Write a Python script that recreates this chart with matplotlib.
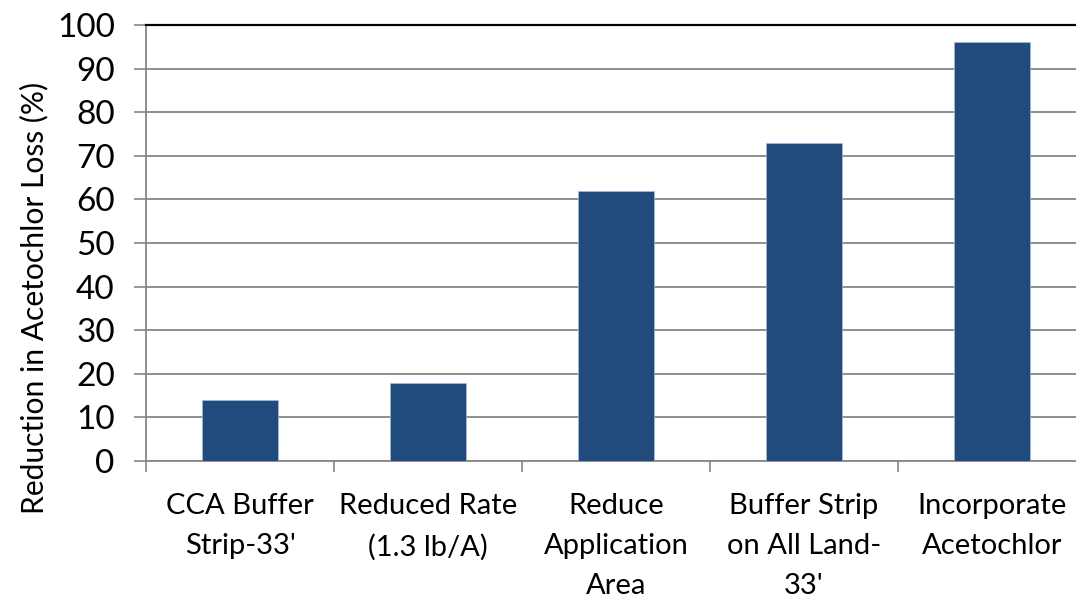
import matplotlib
matplotlib.use('Agg')
import matplotlib.pyplot as plt
import numpy as np

# kategorie a hodnoty
categories = ["CCA Buffer\nStrip-33'", "Reduced Rate\n(1.3 lb/A)", "Reduce\nApplication\nArea",
              "Buffer Strip\non All Land-\n33'", "Incorporate\nAcetochlor"]
reduction = [14, 18, 62, 73, 96]
y_ticks = list(range(0, 101, 10))

plt.rcParams['font.family'] = ['Lato', 'DejaVu Sans']

fig = plt.figure(figsize=(10.76, 5.97), dpi=100)
ax = fig.add_axes([146 / 1076, 1 - 461 / 597, 940 / 1076, 436 / 597])

x = np.arange(len(categories))
ax.bar(x, reduction, width=0.4, color='#214a7d', edgecolor='#a9bcd6', linewidth=0.5, zorder=3)

ax.set_xlim(-0.5, len(categories) - 0.5)
ax.set_ylim(0, 100)
ax.set_yticks(y_ticks)
ax.set_yticklabels([str(v) for v in y_ticks], fontsize=24)
ax.set_xticks(x)
ax.set_xticklabels(categories, fontsize=21, linespacing=1.66)
ax.set_xticks(np.arange(-0.5, len(categories), 1), minor=True)

ax.tick_params(axis='x', which='major', length=0, pad=23)
ax.tick_params(axis='x', which='minor', length=8, width=1.2, color='#868686', direction='out')
ax.tick_params(axis='y', length=8.5, width=1.2, color='#868686', pad=14)

ax.grid(axis='y', color='#868686', linewidth=1.3, zorder=0)
ax.set_axisbelow(True)

for side in ['left', 'bottom']:
    ax.spines[side].set_color('#868686')
    ax.spines[side].set_linewidth(1.3)
ax.spines['right'].set_visible(False)
ax.spines['top'].set_color('black')
ax.spines['top'].set_linewidth(1.6)

ax.set_ylabel('Reduction in Acetochlor Loss (%)', fontsize=21.6)
ax.yaxis.set_label_coords(-0.104, 0.375)

fig.savefig('out.png', dpi=100)
